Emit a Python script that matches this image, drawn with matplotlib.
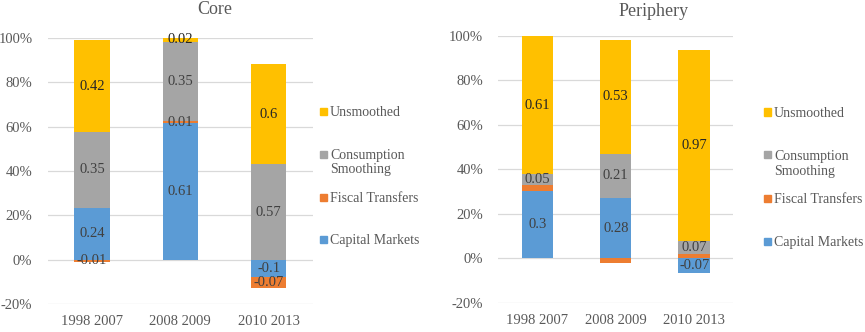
import matplotlib.pyplot as plt
from matplotlib.patches import Rectangle

plt.rcParams['font.family'] = ['Liberation Serif', 'DejaVu Serif']

periods = ['1998 2007', '2008 2009', '2010 2013']
series = ['Capital Markets', 'Fiscal Transfers', 'Consumption\nSmoothing', 'Unsmoothed']
colors = ['#5B9BD5', '#ED7D31', '#A5A5A5', '#FFC000']

# bar heights as drawn
core_cm = [0.235, 0.615, -0.075]
core_ft = [-0.01, 0.01, -0.05]
core_cs = [0.34, 0.355, 0.43]
core_un = [0.415, 0.02, 0.45]
# data labels as printed
core_cm_lab = ['0.24', '0.61', '-0.1']
core_ft_lab = ['-0.01', '0.01', '-0.07']
core_cs_lab = ['0.35', '0.35', '0.57']
core_un_lab = ['0.42', '0.02', '0.6']

per_cm = [0.30, 0.27, -0.065]
per_ft = [0.03, -0.02, 0.017]
per_cs = [0.048, 0.20, 0.06]
per_un = [0.62, 0.51, 0.86]
per_cm_lab = ['0.3', '0.28', '-0.07']
per_ft_lab = ['', '', '']
per_cs_lab = ['0.05', '0.21', '0.07']
per_un_lab = ['0.61', '0.53', '0.97']

yticks = [-0.2, 0, 0.2, 0.4, 0.6, 0.8, 1.0]
ytick_labels = ['-20%', '0%', '20%', '40%', '60%', '80%', '100%']

W, H = 865, 332
fig = plt.figure(figsize=(W / 100, H / 100), dpi=100)


def stacked(ax, data, labels):
    x = range(len(periods))
    pos = [0.0] * len(periods)
    neg = [0.0] * len(periods)
    for vals, labs, c in zip(data, labels, colors):
        for i, v in enumerate(vals):
            base = pos[i] if v >= 0 else neg[i]
            ax.bar(i, v, 0.4, bottom=base, color=c, zorder=2)
            if labs[i]:
                tc = '#262626' if c == '#FFC000' else '#404040'
                ax.text(i, base + v / 2, labs[i], ha='center', va='center',
                        fontsize=10.5, color=tc, zorder=3)
            if v >= 0:
                pos[i] += v
            else:
                neg[i] += v
    ax.set_xlim(-0.5, 2.5)
    ax.set_ylim(-0.2, 1.0)
    ax.set_yticks(yticks)
    ax.set_yticklabels(ytick_labels)
    ax.set_xticks(list(x))
    ax.set_xticklabels(periods)
    ax.tick_params(length=0, labelsize=10.5, labelcolor='#595959')
    ax.tick_params(axis='y', pad=11)
    ax.tick_params(axis='x', pad=8)
    ax.grid(axis='y', color='#D9D9D9', lw=0.9, zorder=0)
    for s in ax.spines.values():
        s.set_visible(False)
    ax.set_facecolor('none')


def legend(x0, ys):
    # ys: pixel rows (from top) of the first text line of each entry, top to bottom
    for c, lab, y in zip(colors[::-1], series[::-1], ys):
        fig.patches.append(Rectangle(((x0 - 10) / W, 1 - (y + 3.5) / H), 7 / W, 7 / H,
                                     transform=fig.transFigure, color=c))
        fig.text(x0 / W, 1 - (y - 5) / H, lab, ha='left', va='top', fontsize=10,
                 color='#595959', linespacing=1.15)


ax1 = fig.add_axes([47.7 / W, 27.7 / H, 265.3 / W, 266.6 / H])
stacked(ax1, [core_cm, core_ft, core_cs, core_un],
        [core_cm_lab, core_ft_lab, core_cs_lab, core_un_lab])
ax2 = fig.add_axes([498.3 / W, 29.3 / H, 235 / W, 267 / H])
stacked(ax2, [per_cm, per_ft, per_cs, per_un],
        [per_cm_lab, per_ft_lab, per_cs_lab, per_un_lab])

fig.text(215 / W, 1 - 10 / H, 'Core', ha='center', va='center', fontsize=13, color='#595959')
fig.text(654 / W, 1 - 12 / H, 'Periphery', ha='center', va='center', fontsize=13, color='#595959')

legend(330, [111, 154, 197, 239])
legend(774, [112, 155, 198, 241])

fig.savefig('out.png', dpi=100)
